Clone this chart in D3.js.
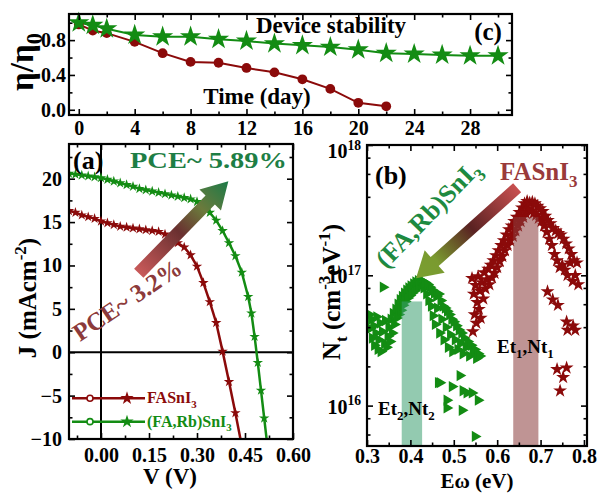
<!DOCTYPE html>
<html>
<head>
<meta charset="utf-8">
<script src="https://cdn.jsdelivr.net/npm/d3@7"></script>
<style>
  body { margin: 0; background: #fff; }
  svg { display: block; }
  text { font-family: "Liberation Serif", "Times New Roman", serif; font-weight: bold; }
</style>
</head>
<body>
<svg id="fig" width="605" height="493"></svg>
<script>
// ---- (c) device stability ----
var stabDaysRb = [0, 1, 2, 4, 6, 8, 10, 12, 14, 16, 18, 20, 22, 24, 26, 28, 30];
var stabRb = [1.0, 0.97, 0.93, 0.86, 0.84, 0.84, 0.81, 0.79, 0.76, 0.74, 0.72, 0.69, 0.65, 0.64, 0.63, 0.62, 0.62];
var stabDaysFA = [0, 1, 2, 4, 6, 8, 10, 12, 14, 16, 18, 20, 22];
var stabFA = [0.98, 0.91, 0.88, 0.78, 0.65, 0.55, 0.54, 0.48, 0.43, 0.35, 0.24, 0.08, 0.04];
var stabXTicks = [0, 4, 8, 12, 16, 20, 24, 28];
var stabXMinor = [2, 6, 10, 14, 18, 22, 26, 30];
var stabYTicks = [0, 0.4, 0.8];
var stabYMinor = [0.2, 0.6, 1.0];

// ---- (a) J-V curves ----
var jvVFA = [-0.10, -0.08, -0.06, -0.04, -0.02, 0.00, 0.02, 0.04, 0.06, 0.08, 0.10, 0.12, 0.14, 0.16, 0.18, 0.20, 0.22, 0.24, 0.26, 0.28, 0.30, 0.32, 0.34, 0.36, 0.38, 0.40, 0.42, 0.44];
var jvJFA = [16.3, 16.1, 15.8, 15.6, 15.4, 15.1, 14.9, 14.7, 14.5, 14.4, 14.3, 14.2, 14.1, 14.0, 13.9, 13.6, 13.1, 12.6, 12.1, 11.2, 9.9, 8.0, 5.8, 3.4, 0.1, -3.4, -7.0, -10.8];
var jvVRb = [-0.10, -0.08, -0.06, -0.04, -0.02, 0.00, 0.02, 0.04, 0.06, 0.08, 0.10, 0.12, 0.14, 0.16, 0.18, 0.20, 0.22, 0.24, 0.26, 0.28, 0.30, 0.32, 0.34, 0.36, 0.38, 0.40, 0.42, 0.44, 0.46, 0.47, 0.48, 0.49, 0.50, 0.51, 0.52];
var jvJRb = [20.6, 20.5, 20.4, 20.3, 20.2, 20.1, 19.9, 19.7, 19.5, 19.3, 19.1, 18.85, 18.7, 18.55, 18.4, 18.25, 18.1, 17.95, 17.8, 17.65, 17.35, 16.8, 16.1, 15.2, 14.0, 12.6, 11.1, 9.2, 6.4, 4.5, 1.8, -1.2, -4.4, -7.6, -10.8];
var jvXTicks = [0, 0.15, 0.30, 0.45, 0.60];
var jvXMinor = [-0.075, 0.075, 0.225, 0.375, 0.525];
var jvYTicks = [-10, -5, 0, 5, 10, 15, 20];
var jvYMinor = [-7.5, -2.5, 2.5, 7.5, 12.5, 17.5, 22.5];

// ---- (b) trap density ----
var dltsERb = [0.305, 0.307, 0.310, 0.312, 0.315, 0.317, 0.320, 0.322, 0.325, 0.327, 0.330, 0.332, 0.335, 0.337, 0.340, 0.342, 0.345, 0.348, 0.350, 0.353, 0.355, 0.358, 0.360, 0.363, 0.366, 0.368,
  0.371, 0.373, 0.376, 0.378, 0.381, 0.383, 0.386, 0.388, 0.391, 0.394, 0.396, 0.399, 0.401, 0.404, 0.407, 0.410, 0.412, 0.415, 0.418, 0.420, 0.423, 0.426,
  0.428, 0.431, 0.434, 0.437, 0.440, 0.442, 0.445, 0.448, 0.450, 0.452, 0.455, 0.457, 0.460, 0.462, 0.465, 0.467, 0.470, 0.472, 0.475, 0.477, 0.480, 0.482, 0.485, 0.487, 0.490, 0.492, 0.495, 0.497, 0.500, 0.503, 0.506, 0.509, 0.512, 0.515, 0.518, 0.521, 0.524, 0.528, 0.532, 0.536, 0.540, 0.544, 0.548, 0.552, 0.556, 0.560,
  0.464, 0.468, 0.484, 0.484, 0.496, 0.514, 0.519, 0.521, 0.530, 0.542, 0.556, 0.549];
var dltsNRb = [5.0e16, 3.9e16, 4.6e16, 3.3e16, 4.1e16, 2.9e16, 3.6e16, 4.8e16, 2.7e16, 3.2e16, 4.3e16, 2.6e16, 3.7e16, 8.1e16, 3.0e16, 4.5e16, 2.8e16, 3.4e16, 4.0e16, 3.1e16, 4.6e16, 3.6e16, 5.1e16, 4.2e16, 5.5e16, 4.7e16,
  6.0e16, 5.0e16, 6.5e16, 5.4e16, 6.9e16, 5.9e16, 7.3e16, 6.3e16, 7.7e16, 6.7e16, 8.0e16, 7.0e16, 8.3e16, 7.3e16, 8.6e16, 7.6e16, 8.9e16, 8.0e16, 9.1e16, 8.3e16, 9.2e16, 8.4e16,
  9.0e16, 8.0e16, 8.8e16, 7.2e16, 8.5e16, 6.4e16, 8.1e16, 5.8e16, 7.7e16, 4.9e16, 7.3e16, 4.2e16, 6.9e16, 5.6e16, 7.2e16, 3.6e16, 6.4e16, 4.6e16, 5.8e16, 3.2e16, 5.6e16, 4.0e16, 5.3e16, 2.8e16, 5.0e16, 3.5e16, 4.6e16, 2.6e16, 4.4e16, 3.2e16, 4.1e16, 2.7e16, 3.8e16, 3.0e16, 3.6e16, 2.5e16, 3.3e16, 2.8e16, 3.1e16, 2.4e16, 2.9e16, 2.6e16, 2.7e16, 2.3e16, 2.5e16, 2.4e16,
  1.5e16, 1.5e16, 1.1e16, 0.96e16, 1.4e16, 1.7e16, 0.92e16, 1.3e16, 1.25e16, 1.25e16, 1.1e16, 0.58e16];
var dltsEFA = [0.542, 0.544, 0.546, 0.548, 0.550, 0.552, 0.554, 0.556, 0.558, 0.560, 0.562, 0.565, 0.568, 0.570, 0.573, 0.576, 0.579, 0.582, 0.585, 0.588, 0.591, 0.594, 0.597, 0.600, 0.603, 0.606, 0.609, 0.612, 0.615, 0.618, 0.621, 0.624, 0.627, 0.630, 0.633, 0.636, 0.639, 0.642, 0.645, 0.648, 0.651, 0.654, 0.657, 0.660, 0.663, 0.666, 0.669, 0.672, 0.675, 0.678, 0.681, 0.684, 0.687, 0.690, 0.693, 0.696, 0.699, 0.702, 0.705, 0.708, 0.711, 0.714, 0.717, 0.720, 0.723, 0.726, 0.729, 0.732, 0.735, 0.738, 0.741, 0.744, 0.747, 0.750, 0.753, 0.756, 0.759, 0.762, 0.765, 0.768, 0.771, 0.774, 0.777, 0.780, 0.784, 0.787,
  0.716, 0.728, 0.740, 0.760, 0.762, 0.775, 0.780, 0.738, 0.752, 0.760, 0.745];
var dltsNFA = [9.5e16, 3.7e16, 7.2e16, 5.0e16, 8.4e16, 4.3e16, 6.2e16, 9.8e16, 5.5e16, 7.6e16, 4.7e16, 8.8e16, 6.6e16, 10.5e16, 7.9e16, 9.3e16, 11.2e16, 8.5e16, 12.0e16, 9.6e16, 13.0e16, 10.4e16, 14.2e16, 11.5e16, 15.5e16, 12.8e16, 17.0e16, 14.0e16, 18.5e16, 15.5e16, 20.5e16, 17.0e16, 22.5e16, 18.5e16, 24.0e16, 20.0e16, 26.0e16, 22.0e16, 28.0e16, 24.0e16, 30.5e16, 26.0e16, 33.0e16, 28.0e16, 35.5e16, 30.0e16, 37.0e16, 32.0e16, 36.0e16, 31.0e16, 36.5e16, 30.0e16, 35.5e16, 29.0e16, 34.0e16, 27.5e16, 32.5e16, 26.0e16, 31.0e16, 24.0e16, 28.5e16, 21.5e16, 26.5e16, 19.0e16, 25.0e16, 17.0e16, 23.0e16, 14.5e16, 22.0e16, 13.0e16, 21.0e16, 11.5e16, 20.5e16, 12.0e16, 19.0e16, 11.0e16, 17.5e16, 10.0e16, 16.0e16, 12.5e16, 14.5e16, 9.0e16, 13.0e16, 10.0e16, 12.5e16, 8.5e16,
  7.5e16, 6.5e16, 5.9e16, 4.4e16, 3.8e16, 4.1e16, 3.8e16, 1.9e16, 1.65e16, 1.95e16, 1.3e16];
var trapBands = [[0.38, 0.427, 6.3e16], [0.637, 0.695, 2.8e17]];
var dltsXTicks = [0.3, 0.4, 0.5, 0.6, 0.7, 0.8];
var dltsXMinor = [0.35, 0.45, 0.55, 0.65, 0.75];
var dltsYTicks = [1e16, 1e17, 1e18];
var dltsYMinor = [6e15, 8e15, 2e16, 4e16, 6e16, 8e16, 2e17, 4e17, 6e17, 8e17];

var RED = "#8b0a0a", GREEN = "#138c13";
var svg = d3.select("#fig");
var defs = svg.append("defs");

// box with inward ticks on all four sides
function frame(g, x, y, o) {
  var xr = x.range(), yr = y.range();
  function ax(axis, tr, vals, size, fmt, pad) {
    var a = g.append("g").attr("transform", tr)
      .call(axis.tickValues(vals).tickSize(size).tickSizeOuter(0).tickPadding(pad || 0).tickFormat(fmt || ""));
    a.select(".domain").remove();
    a.selectAll("line").attr("stroke-width", 1.6);
    a.selectAll("text").attr("font-size", o.fs || 20).attr("font-family", null).attr("fill", "#000");
    return a;
  }
  ax(d3.axisBottom(x), "translate(0," + yr[0] + ")", o.xMajor, -6, o.xFmt, o.xPad);
  ax(d3.axisBottom(x), "translate(0," + yr[0] + ")", o.xMinor, -3.5);
  ax(d3.axisTop(x), "translate(0," + yr[1] + ")", o.xMajor, -6);
  ax(d3.axisTop(x), "translate(0," + yr[1] + ")", o.xMinor, -3.5);
  ax(d3.axisLeft(y), "translate(" + xr[0] + ",0)", o.yMajor, -6, o.yFmt, o.yPad);
  ax(d3.axisLeft(y), "translate(" + xr[0] + ",0)", o.yMinor, -3.5);
  ax(d3.axisRight(y), "translate(" + xr[1] + ",0)", o.yMajor, -6);
  ax(d3.axisRight(y), "translate(" + xr[1] + ",0)", o.yMinor, -3.5);
  g.append("rect").attr("x", xr[0]).attr("y", yr[1]).attr("width", xr[1] - xr[0]).attr("height", yr[0] - yr[1])
    .attr("fill", "none").attr("stroke", "#000").attr("stroke-width", 2.2);
}

function clip(id, x, y) {
  var xr = x.range(), yr = y.range();
  defs.append("clipPath").attr("id", id).append("rect")
    .attr("x", xr[0]).attr("y", yr[1]).attr("width", xr[1] - xr[0]).attr("height", yr[0] - yr[1]);
}

// text made of runs: [str, "", "sub" or "sup"]
function rich(t, fs, parts) {
  var shift = 0;
  parts.forEach(function(p) {
    var target = p[1] === "sub" ? 0.28 * fs : p[1] === "sup" ? -0.42 * fs : 0;
    var s = t.append("tspan").text(p[0]).attr("dy", target - shift);
    if (p[1]) s.attr("font-size", 0.68 * fs);
    shift = target;
  });
  return t;
}

function arrow(g, p0, p1, shaft, headW, headL, stops, id) {
  var grad = defs.append("linearGradient").attr("id", id).attr("x1", 0).attr("x2", 1).attr("y1", 0).attr("y2", 0);
  stops.forEach(function(s) { grad.append("stop").attr("offset", s[0]).attr("stop-color", s[1]); });
  var dx = p1[0] - p0[0], dy = p1[1] - p0[1], len = Math.sqrt(dx * dx + dy * dy);
  var ang = Math.atan2(dy, dx) * 180 / Math.PI, b = len - headL;
  var pts = [[0, -shaft / 2], [b, -shaft / 2], [b, -headW / 2], [len, 0], [b, headW / 2], [b, shaft / 2], [0, shaft / 2]];
  g.append("polygon").attr("points", pts.map(function(p) { return p.join(","); }).join(" "))
    .attr("transform", "translate(" + p0[0] + "," + p0[1] + ") rotate(" + ang + ")")
    .attr("fill", "url(#" + id + ")");
}

// ================= (c) =================
var xC = d3.scaleLinear().domain([-0.7, 31]).range([69, 512]);
var yC = d3.scaleLinear().domain([-0.06, 1.1]).range([115, 14]);
var gC = svg.append("g");
clip("clipC", xC, yC);
var lineC = d3.line().x(function(d) { return xC(d[0]); }).y(function(d) { return yC(d[1]); });
var ptsRb = d3.zip(stabDaysRb, stabRb), ptsFA = d3.zip(stabDaysFA, stabFA);
gC.append("path").datum(ptsFA).attr("d", lineC).attr("fill", "none").attr("stroke", RED).attr("stroke-width", 2);
gC.append("path").datum(ptsRb).attr("d", lineC).attr("fill", "none").attr("stroke", GREEN).attr("stroke-width", 2);
gC.selectAll(".mFA").data(ptsFA).enter().append("path")
  .attr("d", d3.symbol(d3.symbolCircle, 75))
  .attr("transform", function(d) { return "translate(" + xC(d[0]) + "," + yC(d[1]) + ")"; })
  .attr("fill", RED);
gC.selectAll(".mRb").data(ptsRb).enter().append("path")
  .attr("d", d3.symbol(d3.symbolStar, 140))
  .attr("transform", function(d) { return "translate(" + xC(d[0]) + "," + yC(d[1]) + ")"; })
  .attr("fill", GREEN);
frame(gC, xC, yC, {
  xMajor: stabXTicks, xMinor: stabXMinor, yMajor: stabYTicks, yMinor: stabYMinor,
  xFmt: d3.format("d"), xPad: 6, yFmt: d3.format(".1f"), yPad: 3
});
gC.append("text").attr("x", 331).attr("y", 33).attr("text-anchor", "middle").attr("font-size", 23).text("Device stability");
gC.append("text").attr("x", 488).attr("y", 40).attr("text-anchor", "middle").attr("font-size", 25).text("(c)");
gC.append("text").attr("x", 257).attr("y", 104).attr("text-anchor", "middle").attr("font-size", 23).text("Time (day)");
rich(gC.append("text").attr("transform", "translate(33,62) rotate(-90)").attr("text-anchor", "middle").attr("font-size", 33),
  33, [["η/η", ""], ["0", "sub"]]);

// ================= (a) =================
var xA = d3.scaleLinear().domain([-0.1, 0.6]).range([69, 293]);
var yA = d3.scaleLinear().domain([-10, 24]).range([439, 144]);
var gA = svg.append("g");
clip("clipA", xA, yA);
var pA = gA.append("g").attr("clip-path", "url(#clipA)");
pA.append("line").attr("x1", xA(0)).attr("x2", xA(0)).attr("y1", yA.range()[0]).attr("y2", yA.range()[1]).attr("stroke", "#000").attr("stroke-width", 2);
pA.append("line").attr("x1", xA.range()[0]).attr("x2", xA.range()[1]).attr("y1", yA(0)).attr("y2", yA(0)).attr("stroke", "#000").attr("stroke-width", 2);
var lineA = d3.line().x(function(d) { return xA(d[0]); }).y(function(d) { return yA(d[1]); });
[[d3.zip(jvVFA, jvJFA), RED], [d3.zip(jvVRb, jvJRb), GREEN]].forEach(function(s) {
  pA.append("path").datum(s[0]).attr("d", lineA).attr("fill", "none").attr("stroke", s[1]).attr("stroke-width", 2.5);
  pA.selectAll(null).data(s[0]).enter().append("path")
    .attr("d", d3.symbol(d3.symbolStar, 34))
    .attr("transform", function(d) { return "translate(" + xA(d[0]) + "," + yA(d[1]) + ")"; })
    .attr("fill", s[1]);
});
frame(gA, xA, yA, {
  xMajor: jvXTicks, xMinor: jvXMinor, yMajor: jvYTicks, yMinor: jvYMinor,
  xFmt: d3.format(".2f"), xPad: 9, yFmt: d3.format("d"), yPad: 7
});
// legend
[[-5.3, RED, "FASnI", "3"], [-8.0, GREEN, "(FA,Rb)SnI", "3"]].forEach(function(l) {
  var ly = yA(l[0]);
  gA.append("line").attr("x1", 72).attr("x2", 145).attr("y1", ly).attr("y2", ly).attr("stroke", l[1]).attr("stroke-width", 2.5);
  gA.append("circle").attr("cx", 90).attr("cy", ly).attr("r", 3).attr("fill", "#fff").attr("stroke", l[1]).attr("stroke-width", 1.6);
  gA.append("path").attr("d", d3.symbol(d3.symbolStar, 55)).attr("transform", "translate(127," + ly + ")").attr("fill", l[1]);
  rich(gA.append("text").attr("x", 147).attr("y", ly + 5).attr("font-size", 16).attr("fill", l[1]), 16, [[l[2], ""], [l[3], "sub"]]);
});
gA.append("text").attr("x", 73).attr("y", 169).attr("font-size", 26).text("(a)");
gA.append("text").attr("x", 130).attr("y", 168).attr("font-size", 24).attr("fill", "#1e7e45")
  .attr("textLength", 157).attr("lengthAdjust", "spacingAndGlyphs").text("PCE~ 5.89%");
gA.append("text").attr("transform", "translate(132,307) rotate(-34)").attr("text-anchor", "middle")
  .attr("font-size", 25).attr("fill", "#8c3a3a").text("PCE~ 3.2%");
arrow(gA, [xA(0.118), yA(9.1)], [xA(0.398), yA(19.7)], 13, 30, 26,
  [[0, "#c95a5a"], [0.45, "#6a3030"], [0.7, "#6b7a3c"], [1, "#1c7a48"]], "gradA");
gA.append("text").attr("x", 170).attr("y", 484).attr("text-anchor", "middle").attr("font-size", 23).text("V (V)");
rich(gA.append("text").attr("transform", "translate(36,298) rotate(-90)").attr("text-anchor", "middle").attr("font-size", 25),
  25, [["J (mAcm", ""], ["-2", "sup"], [")", ""]]);

// ================= (b) =================
var xB = d3.scaleLinear().domain([0.3, 0.807]).range([367, 587]);
var yB = d3.scaleLog().domain([Math.pow(10, 15.69), 1e18]).range([446, 145]);
var gB = svg.append("g");
clip("clipB", xB, yB);
var pB = gB.append("g").attr("clip-path", "url(#clipB)");
pB.selectAll(".tri").data(d3.zip(dltsERb, dltsNRb)).enter().append("path")
  .attr("d", d3.symbol(d3.symbolTriangle, 55))
  .attr("transform", function(d) { return "translate(" + xB(d[0]) + "," + yB(d[1]) + ") rotate(90)"; })
  .attr("fill", GREEN);
pB.selectAll(".star").data(d3.zip(dltsEFA, dltsNFA)).enter().append("path")
  .attr("d", d3.symbol(d3.symbolStar, 60))
  .attr("transform", function(d) { return "translate(" + xB(d[0]) + "," + yB(d[1]) + ")"; })
  .attr("fill", RED);
pB.selectAll(".band").data(trapBands).enter().append("rect")
  .attr("x", function(d) { return xB(d[0]); })
  .attr("width", function(d) { return xB(d[1]) - xB(d[0]); })
  .attr("y", function(d) { return yB(d[2]); })
  .attr("height", function(d) { return yB.range()[0] - yB(d[2]); })
  .attr("fill", function(d, i) { return i === 0 ? "#3a9e70" : "#8b3c3c"; })
  .attr("fill-opacity", 0.55);
frame(gB, xB, yB, {
  xMajor: dltsXTicks, xMinor: dltsXMinor, yMajor: dltsYTicks, yMinor: dltsYMinor,
  xFmt: d3.format(".1f"), xPad: 3, yFmt: "", yPad: 0
});
dltsYTicks.forEach(function(v, i) {
  var off = i === dltsYTicks.length - 1 ? 13 : 8;
  rich(gB.append("text").attr("x", 361).attr("y", yB(v) + off).attr("text-anchor", "end").attr("font-size", 20),
    20, [["10", ""], [String(Math.round(Math.log10(v))), "sup"]]);
});
gB.append("text").attr("x", 375).attr("y", 184).attr("font-size", 26).text("(b)");
rich(gB.append("text").attr("x", 500).attr("y", 180).attr("font-size", 25).attr("fill", "#9a3a3a"),
  25, [["FASnI", ""], ["3", "sub"]]);
rich(gB.append("text").attr("transform", "translate(434,220) rotate(-46)").attr("text-anchor", "middle").attr("font-size", 26).attr("fill", "#1e8a40"),
  26, [["(FA,Rb)SnI", ""], ["3", "sub"]]);
arrow(gB, [xB(0.646), yB(4.7e17)], [xB(0.413), yB(9.5e16)], 12, 30, 25,
  [[0, "#c85050"], [0.45, "#5a2222"], [0.8, "#7a9a30"], [1, "#7aa030"]], "gradB");
rich(gB.append("text").attr("x", 497).attr("y", 353).attr("font-size", 19), 19,
  [["Et", ""], ["1", "sub"], [",Nt", ""], ["1", "sub"]]);
rich(gB.append("text").attr("x", 378).attr("y", 415).attr("font-size", 19), 19,
  [["Et", ""], ["2", "sub"], [",Nt", ""], ["2", "sub"]]);
gB.append("text").attr("x", 477).attr("y", 488).attr("text-anchor", "middle").attr("font-size", 21).text("Eω (eV)");
rich(gB.append("text").attr("transform", "translate(340,292) rotate(-90)").attr("text-anchor", "middle").attr("font-size", 25),
  25, [["N", ""], ["t", "sub"], [" (cm", ""], ["-3", "sup"], ["eV", ""], ["-1", "sup"], [")", ""]]);
</script>
</body>
</html>
